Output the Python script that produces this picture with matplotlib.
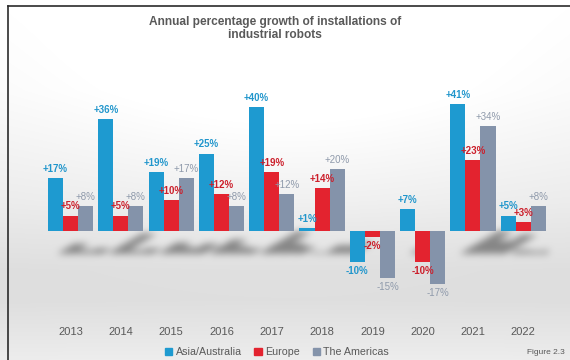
import numpy as np
import matplotlib
matplotlib.use('Agg')
import matplotlib.pyplot as plt
from matplotlib.patches import Polygon, Patch
from matplotlib.lines import Line2D

plt.rcParams['font.family'] = ['Liberation Sans', 'DejaVu Sans']

# annual growth of robot installations, in percent
years = ['2013', '2014', '2015', '2016', '2017', '2018', '2019', '2020', '2021', '2022']
asia = [17, 36, 19, 25, 40, 1, -10, 7, 41, 5]
europe = [5, 5, 10, 12, 19, 14, -2, -10, 23, 3]
americas = [8, 8, 17, 8, 12, 20, -15, -17, 34, 8]
names = ['Asia/Australia', 'Europe', 'The Americas']

bar_colors = ['#1e9ad0', '#e3232f', '#8493aa']
label_colors = ['#2196cc', '#cc1f2b', '#8f9aab']
label_weights = ['bold', 'bold', 'normal']
grey = '#595959'

W, H, DPI = 570, 360, 100
ax_rect = [45.4 / W, 67 / H, 503 / W, 201.5 / H]
ylim = (-20, 45)
bw = 0.3
offsets = [-bw, 0, bw]
series = [asia, europe, americas]
x = np.arange(len(years))


def shadow_mask():
    # draw skewed floor shadows of the bars off screen, return darkness 0..1
    f = plt.figure(figsize=(W / DPI, H / DPI), dpi=DPI)
    a = f.add_axes(ax_rect)
    a.set_xlim(-0.5, len(years) - 0.5)
    a.set_ylim(*ylim)
    a.axis('off')
    for vals, off in zip(series, offsets):
        for i, v in enumerate(vals):
            if v <= 0:
                continue
            x0 = x[i] + off - bw / 2
            pts = [(x0, -2), (x0 + bw, -2), (x0 + bw, v), (x0, v)]
            pts = [(px + 0.018 * py + 0.22, -7.0 + 0.17 * py) for px, py in pts]
            a.add_patch(Polygon(pts, closed=True, fc='k', ec='none'))
    f.canvas.draw()
    img = np.asarray(f.canvas.buffer_rgba())[:, :, 0].astype(float)
    plt.close(f)
    return 1 - img / 255.0


def box_blur(a, r, n=3):
    k = np.ones(2 * r + 1) / (2 * r + 1)
    for _ in range(n):
        a = np.apply_along_axis(lambda m: np.convolve(m, k, mode='same'), 0, a)
        a = np.apply_along_axis(lambda m: np.convolve(m, k, mode='same'), 1, a)
    return a


fig = plt.figure(figsize=(W / DPI, H / DPI), dpi=DPI)

# grey gradient backdrop with the soft shadows baked in
yy, xx = np.mgrid[0:H, 0:W]
prof = np.interp(yy, [0, 90, 200, 270, 300, 360], [0.99, 0.97, 0.92, 0.87, 0.87, 0.93])
glow = 0.05 * np.exp(-((xx - 285) / 260.0) ** 2 - ((yy - 80) / 140.0) ** 2)
bg = np.clip(prof + glow, 0, 1)
shadow = box_blur(shadow_mask(), 3)
bg = bg * (1 - 0.42 * shadow)
fig.figimage(np.dstack([bg] * 3), 0, 0, origin='upper', zorder=-1)

ax = fig.add_axes(ax_rect)
ax.patch.set_visible(False)
for s in ax.spines.values():
    s.set_visible(False)
ax.set_xlim(-0.5, len(years) - 0.5)
ax.set_ylim(*ylim)
ax.set_yticks([])
ax.set_xticks(x)
ax.set_xticklabels(years, fontsize=8, color=grey)
ax.tick_params(axis='x', length=0, pad=24.5)

for vals, off, c, lc, lw in zip(series, offsets, bar_colors, label_colors, label_weights):
    bars = ax.bar(x + off, vals, width=bw, color=c, zorder=2)
    for b, v in zip(bars, vals):
        xc = b.get_x() + b.get_width() / 2
        dy = 6.5 if v >= 0 else -6.5
        ax.annotate('%+d%%' % v, (xc, v), xytext=(0, dy), textcoords='offset points',
                    ha='center', va='center', fontsize=7, color=lc,
                    fontweight=lw, zorder=3)

fig.text(275 / W, 1 - 28.5 / H,
         'Annual percentage growth of installations of\nindustrial robots',
         ha='center', va='center', fontsize=8.6, fontweight='bold', color=grey,
         linespacing=1.2)

handles = [Patch(color=c, label=n) for c, n in zip(bar_colors, names)]
fig.legend(handles=handles, loc='center', bbox_to_anchor=(277 / W, 1 - 352 / H),
           ncol=3, frameon=False, fontsize=7.7, handlelength=0.7, handleheight=0.7,
           handletextpad=0.3, columnspacing=1.2, labelcolor=grey, borderpad=0)

fig.text(565 / W, 1 - 352 / H, 'Figure 2.3', ha='right', va='center',
         fontsize=6, color=grey, family=['Liberation Sans Narrow', 'Liberation Sans'])

# dark frame edges on the left and top
fig.add_artist(Line2D([8 / W, 8 / W], [0, 1 - 6 / H], transform=fig.transFigure,
                      color='#2b2b2b', lw=1.2))
fig.add_artist(Line2D([8 / W, 1], [1 - 6 / H, 1 - 6 / H], transform=fig.transFigure,
                      color='#2b2b2b', lw=1.2))

fig.savefig('out.png', dpi=DPI)
